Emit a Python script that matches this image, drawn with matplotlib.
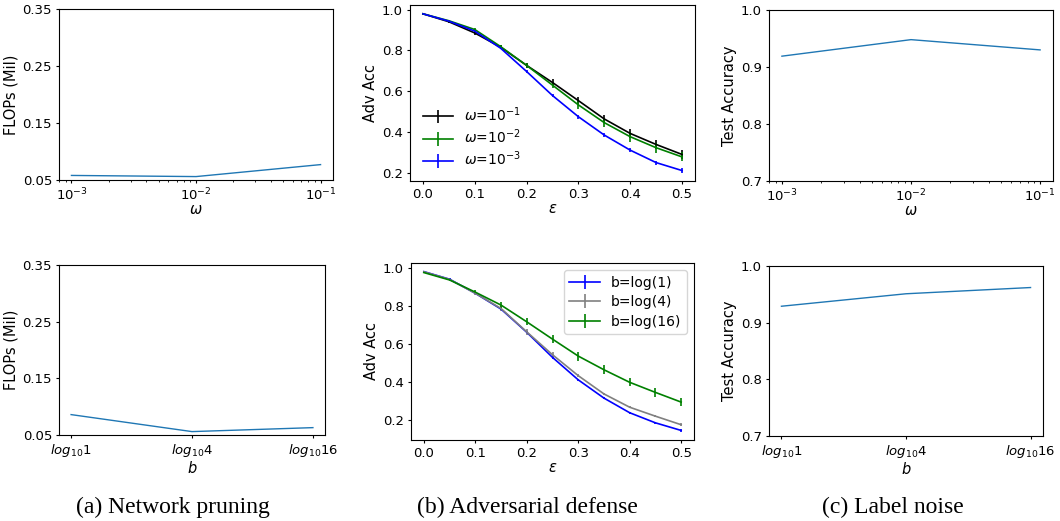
import matplotlib
matplotlib.use("Agg")
import matplotlib.pyplot as plt
import numpy as np

plt.rcParams.update({
    "font.size": 10, "axes.labelsize": 10.5, "legend.fontsize": 10,
    "xtick.labelsize": 9.5, "ytick.labelsize": 9.5,
    "xtick.major.size": 2.5, "ytick.major.size": 2.5,
    "xtick.minor.size": 1.5, "ytick.minor.size": 1.5,
    "xtick.major.pad": 2.5, "ytick.major.pad": 2.5,
    "axes.labelpad": 3,
})

W, H = 1060, 521

# ---- data ----
omega = [1e-3, 1e-2, 1e-1]
b_labels = [r"$log_{10}1$", r"$log_{10}4$", r"$log_{10}16$"]

flops_omega = [0.058, 0.056, 0.077]
flops_b = [0.086, 0.056, 0.063]

acc_omega = [0.919, 0.948, 0.930]
acc_b = [0.929, 0.951, 0.962]

eps = [0.0, 0.05, 0.1, 0.15, 0.2, 0.25, 0.3, 0.35, 0.4, 0.45, 0.5]

adv_w1 = [0.979, 0.940, 0.885, 0.815, 0.726, 0.642, 0.553, 0.463, 0.392, 0.338, 0.289]
adv_w2 = [0.979, 0.945, 0.902, 0.818, 0.726, 0.629, 0.532, 0.445, 0.376, 0.322, 0.277]
adv_w3 = [0.979, 0.943, 0.894, 0.810, 0.696, 0.578, 0.474, 0.384, 0.310, 0.249, 0.210]
err_w1 = [0.004, 0.006, 0.008, 0.010, 0.012, 0.016, 0.020, 0.022, 0.024, 0.024, 0.022]
err_w2 = [0.004, 0.006, 0.008, 0.010, 0.012, 0.016, 0.020, 0.022, 0.024, 0.024, 0.022]
err_w3 = [0.003, 0.004, 0.005, 0.006, 0.008, 0.008, 0.010, 0.010, 0.010, 0.010, 0.012]

adv_b1 = [0.979, 0.939, 0.865, 0.782, 0.660, 0.528, 0.410, 0.314, 0.237, 0.184, 0.144]
adv_b4 = [0.978, 0.938, 0.865, 0.785, 0.662, 0.542, 0.432, 0.336, 0.266, 0.219, 0.174]
adv_b16 = [0.974, 0.935, 0.871, 0.803, 0.715, 0.624, 0.535, 0.463, 0.397, 0.344, 0.293]
err_b1 = [0.003, 0.004, 0.005, 0.006, 0.006, 0.006, 0.006, 0.006, 0.006, 0.006, 0.008]
err_b4 = [0.003, 0.004, 0.008, 0.015, 0.015, 0.012, 0.008, 0.006, 0.006, 0.006, 0.008]
err_b16 = [0.004, 0.006, 0.010, 0.016, 0.018, 0.022, 0.024, 0.024, 0.022, 0.022, 0.020]


def box(l, t, r, b):
    return [l / W, 1 - b / H, (r - l) / W, (b - t) / H]


fig = plt.figure(figsize=(W / 100, H / 100), dpi=100)

# (a) network pruning
ax = fig.add_axes(box(59, 9, 333, 180))
ax.plot(omega, flops_omega, color="C0", lw=1)
ax.set_xscale("log")
ax.set_ylim(0.05, 0.35); ax.set_yticks([0.05, 0.15, 0.25, 0.35])
ax.set_xlabel(r"$\omega$", labelpad=-1); ax.set_ylabel("FLOPs (Mil)")

ax = fig.add_axes(box(59, 265, 325, 435))
ax.plot(range(3), flops_b, color="C0", lw=1)
ax.set_xticks(range(3)); ax.set_xticklabels(b_labels)
ax.set_ylim(0.05, 0.35); ax.set_yticks([0.05, 0.15, 0.25, 0.35])
ax.set_xlabel(r"$b$", labelpad=1); ax.set_ylabel("FLOPs (Mil)")

# (b) adversarial defense
ax = fig.add_axes(box(410, 5, 695, 181))
ax.errorbar(eps, adv_w1, yerr=err_w1, color="k", lw=1.2, label=r"$\omega$=$10^{-1}$")
ax.errorbar(eps, adv_w2, yerr=err_w2, color="g", lw=1.2, label=r"$\omega$=$10^{-2}$")
ax.errorbar(eps, adv_w3, yerr=err_w3, color="b", lw=1.2, label=r"$\omega$=$10^{-3}$")
ax.set_yticks([0.2, 0.4, 0.6, 0.8, 1.0])
ax.set_xlabel(r"$\epsilon$", labelpad=0); ax.set_ylabel("Adv Acc")
ax.legend(loc="lower left", frameon=False, handlelength=2.2, labelspacing=0.25)

ax = fig.add_axes(box(411, 263, 694, 440))
ax.errorbar(eps, adv_b1, yerr=err_b1, color="b", lw=1.2, label="b=log(1)")
ax.errorbar(eps, adv_b4, yerr=err_b4, color="gray", lw=1.2, label="b=log(4)")
ax.errorbar(eps, adv_b16, yerr=err_b16, color="g", lw=1.2, label="b=log(16)")
ax.set_yticks([0.2, 0.4, 0.6, 0.8, 1.0])
ax.set_xlabel(r"$\epsilon$", labelpad=0); ax.set_ylabel("Adv Acc")
ax.legend(loc="upper right", handlelength=2.2, labelspacing=0.4)

# (c) label noise
ax = fig.add_axes(box(769, 10, 1053, 181))
ax.plot(omega, acc_omega, color="C0", lw=1)
ax.set_xscale("log")
ax.set_ylim(0.7, 1.0); ax.set_yticks([0.7, 0.8, 0.9, 1.0])
ax.set_xlabel(r"$\omega$", labelpad=-1); ax.set_ylabel("Test Accuracy")

ax = fig.add_axes(box(769, 266, 1043, 436))
ax.plot(range(3), acc_b, color="C0", lw=1)
ax.set_xticks(range(3)); ax.set_xticklabels(b_labels)
ax.set_ylim(0.7, 1.0); ax.set_yticks([0.7, 0.8, 0.9, 1.0])
ax.set_xlabel(r"$b$", labelpad=1); ax.set_ylabel("Test Accuracy")

cap = dict(ha="center", va="center", fontsize=17, family="Liberation Serif")
fig.text(173 / W, 1 - 507 / H, "(a) Network pruning", **cap)
fig.text(527 / W, 1 - 507 / H, "(b) Adversarial defense", **cap)
fig.text(893 / W, 1 - 507 / H, "(c) Label noise", **cap)

fig.savefig("out.png", dpi=100)
